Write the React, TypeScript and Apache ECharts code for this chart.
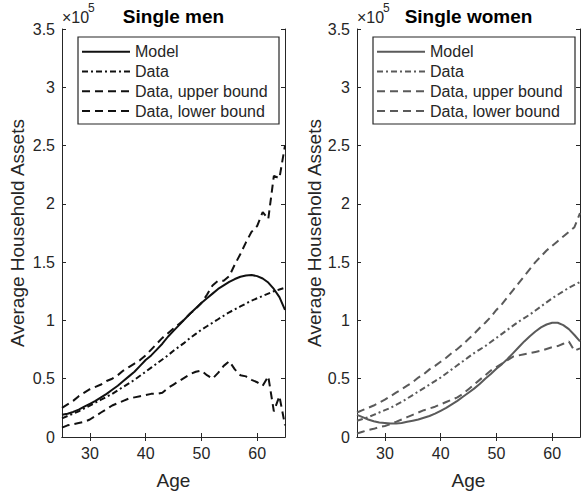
import React, { useEffect, useRef } from "react";
import * as echarts from "echarts";

// Ages (years)
const AGES = [25, 26, 27, 28, 29, 30, 31, 32, 33, 34, 35, 36, 37, 38, 39, 40, 41, 42, 43, 44, 45,
  46, 47, 48, 49, 50, 51, 52, 53, 54, 55, 56, 57, 58, 59, 60, 61, 62, 63, 64, 65];

// Values in units of 1e5 (axis shows "x10^5")
const MEN_MODEL = [0.19, 0.2, 0.215, 0.235, 0.26, 0.285, 0.31, 0.34, 0.37, 0.405, 0.44, 0.48, 0.52, 0.56, 0.61, 0.66,
  0.7, 0.75, 0.8, 0.86, 0.91, 0.96, 1.01, 1.06, 1.105, 1.15, 1.19, 1.23, 1.27, 1.3, 1.33, 1.355, 1.375, 1.385, 1.39,
  1.38, 1.36, 1.325, 1.27, 1.2, 1.09];
const MEN_DATA = [0.16, 0.18, 0.2, 0.22, 0.245, 0.27, 0.295, 0.32, 0.345, 0.37, 0.4, 0.43, 0.46, 0.49, 0.525, 0.56,
  0.595, 0.63, 0.665, 0.7, 0.74, 0.775, 0.81, 0.85, 0.885, 0.92, 0.95, 0.98, 1.01, 1.04, 1.07, 1.095, 1.12, 1.145,
  1.17, 1.19, 1.21, 1.23, 1.25, 1.265, 1.28];
const MEN_UPPER = [0.25, 0.28, 0.31, 0.35, 0.38, 0.41, 0.43, 0.45, 0.48, 0.5, 0.53, 0.57, 0.6, 0.63, 0.66, 0.7, 0.75,
  0.8, 0.85, 0.89, 0.93, 0.97, 1.01, 1.06, 1.1, 1.15, 1.22, 1.3, 1.34, 1.34, 1.38, 1.48, 1.57, 1.67, 1.76, 1.81, 1.93,
  1.87, 2.24, 2.22, 2.5];
const MEN_LOWER = [0.08, 0.1, 0.11, 0.12, 0.13, 0.15, 0.18, 0.21, 0.24, 0.27, 0.29, 0.31, 0.33, 0.34, 0.35, 0.36, 0.37,
  0.37, 0.38, 0.42, 0.45, 0.48, 0.51, 0.54, 0.56, 0.57, 0.53, 0.5, 0.55, 0.61, 0.65, 0.58, 0.53, 0.52, 0.49, 0.47,
  0.44, 0.52, 0.22, 0.35, 0.1];

const WOMEN_MODEL = [0.19, 0.17, 0.15, 0.135, 0.125, 0.12, 0.115, 0.115, 0.12, 0.13, 0.14, 0.15, 0.165, 0.18, 0.2,
  0.225, 0.25, 0.28, 0.31, 0.345, 0.38, 0.415, 0.455, 0.5, 0.54, 0.585, 0.625, 0.67, 0.72, 0.77, 0.82, 0.865, 0.905,
  0.94, 0.965, 0.98, 0.98, 0.96, 0.925, 0.875, 0.82];
const WOMEN_DATA = [0.14, 0.155, 0.17, 0.19, 0.21, 0.23, 0.25, 0.275, 0.3, 0.33, 0.36, 0.39, 0.42, 0.45, 0.48, 0.51,
  0.545, 0.58, 0.615, 0.65, 0.685, 0.72, 0.75, 0.78, 0.815, 0.85, 0.885, 0.92, 0.955, 0.99, 1.02, 1.05, 1.085, 1.12,
  1.155, 1.19, 1.22, 1.25, 1.28, 1.305, 1.33];
const WOMEN_UPPER = [0.21, 0.23, 0.25, 0.27, 0.295, 0.32, 0.35, 0.38, 0.41, 0.44, 0.47, 0.51, 0.54, 0.58, 0.61, 0.645,
  0.68, 0.72, 0.755, 0.795, 0.84, 0.885, 0.935, 0.98, 1.03, 1.09, 1.14, 1.2, 1.26, 1.32, 1.38, 1.44, 1.5, 1.55, 1.6,
  1.64, 1.68, 1.72, 1.76, 1.8, 1.92];
const WOMEN_LOWER = [0.03, 0.045, 0.06, 0.07, 0.085, 0.095, 0.11, 0.13, 0.15, 0.17, 0.19, 0.21, 0.23, 0.245, 0.26,
  0.28, 0.3, 0.32, 0.34, 0.37, 0.41, 0.45, 0.49, 0.53, 0.57, 0.6, 0.63, 0.66, 0.69, 0.7, 0.71, 0.72, 0.73, 0.74, 0.755,
  0.77, 0.78, 0.8, 0.82, 0.74, 0.76];

const X_TICKS = [30, 40, 50, 60];
const PANEL_TITLES = ["Single men", "Single women"];
const SERIES_NAMES = ["Model", "Data", "Data, upper bound", "Data, lower bound"];
const X_LABEL = "Age";
const Y_LABEL = "Average Household Assets";
const EXPONENT = "5";

const FONT = "'Liberation Sans', Arial, Helvetica, sans-serif";
const AXIS_COLOR = "#262626";
const PANEL_COLORS = ["#111111", "#5a5a5a"];
const DASHES: any[] = ["solid", [6, 3, 2, 3], [8, 5], [8, 5]];

const GRID_LEFTS = [62, 357];
const GRID_TOP = 29;
const GRID_W = 223;
const GRID_H = 409;

function pairs(ys: number[]) {
  return AGES.map((a, i) => [a, ys[i]]);
}

export default function App() {
  const ref = useRef<HTMLDivElement>(null);
  useEffect(() => {
    if (!ref.current) return;
    const chart = echarts.init(ref.current, undefined, { renderer: "svg" });
    const panels = [
      [MEN_MODEL, MEN_DATA, MEN_UPPER, MEN_LOWER],
      [WOMEN_MODEL, WOMEN_DATA, WOMEN_UPPER, WOMEN_LOWER],
    ];
    const grid: any[] = [];
    const xAxis: any[] = [];
    const yAxis: any[] = [];
    const series: any[] = [];
    const graphic: any[] = [];
    const nameGaps = [35, 30];
    panels.forEach((sets, p) => {
      grid.push({ left: GRID_LEFTS[p], top: GRID_TOP, width: GRID_W, height: GRID_H, show: false });
      const common = {
        gridIndex: p,
        type: "value",
        min: 25,
        max: 65,
        splitLine: { show: false },
        axisLine: { show: true, lineStyle: { color: AXIS_COLOR, width: 1 } },
      };
      xAxis.push({
        ...common,
        position: "bottom",
        axisTick: { show: true, inside: true, length: 4, customValues: X_TICKS, lineStyle: { color: AXIS_COLOR } },
        axisLabel: { show: true, customValues: X_TICKS, margin: 8, fontSize: 16, color: AXIS_COLOR, fontFamily: FONT },
        name: X_LABEL,
        nameLocation: "middle",
        nameGap: 34,
        nameTextStyle: { fontSize: 19, color: AXIS_COLOR, fontFamily: FONT },
      });
      xAxis.push({
        ...common,
        position: "top",
        axisTick: { show: true, inside: true, length: 4, customValues: X_TICKS, lineStyle: { color: AXIS_COLOR } },
        axisLabel: { show: false },
      });
      const ycommon = {
        gridIndex: p,
        type: "value",
        min: 0,
        max: 3.5,
        interval: 0.5,
        splitLine: { show: false },
        axisLine: { show: true, lineStyle: { color: AXIS_COLOR, width: 1 } },
        axisTick: { show: true, inside: true, length: 4, lineStyle: { color: AXIS_COLOR } },
      };
      yAxis.push({
        ...ycommon,
        position: "left",
        axisLabel: { show: true, margin: 7, fontSize: 16, color: AXIS_COLOR, fontFamily: FONT },
        name: Y_LABEL,
        nameLocation: "middle",
        nameGap: nameGaps[p],
        nameTextStyle: { fontSize: 19, color: AXIS_COLOR, fontFamily: FONT },
      });
      yAxis.push({ ...ycommon, position: "right", axisLabel: { show: false } });
      sets.forEach((ys, k) => {
        series.push({
          type: "line",
          name: SERIES_NAMES[k],
          xAxisIndex: p * 2,
          yAxisIndex: p * 2,
          data: pairs(ys),
          showSymbol: false,
          symbol: "none",
          smooth: false,
          lineStyle: { color: PANEL_COLORS[p], width: 2, type: DASHES[k] },
          z: 2 + k,
        });
      });

      const gl = GRID_LEFTS[p];
      const cx = gl + GRID_W / 2;
      // title
      graphic.push({
        type: "text",
        x: cx,
        y: 16,
        style: { text: PANEL_TITLES[p], font: `bold 19px ${FONT}`, fill: "#000", align: "center", verticalAlign: "middle" },
      });
      // x10^5
      graphic.push({
        type: "text",
        x: gl,
        y: 17,
        style: { text: "\u00d710", font: `16px ${FONT}`, fill: AXIS_COLOR, align: "left", verticalAlign: "middle" },
      });
      graphic.push({
        type: "text",
        x: gl + 26,
        y: 8,
        style: { text: EXPONENT, font: `12px ${FONT}`, fill: AXIS_COLOR, align: "left", verticalAlign: "middle" },
      });
      // legend box
      const lx = gl + 16;
      const ly = 37;
      const lw = p === 0 ? 201 : 202;
      graphic.push({
        type: "rect",
        shape: { x: lx, y: ly, width: lw, height: 87 },
        style: { fill: "#fff", stroke: AXIS_COLOR, lineWidth: 1.2 },
        z: 10,
      });
      const rows = [51.7, 71.5, 91.3, 111];
      SERIES_NAMES.forEach((nm, k) => {
        graphic.push({
          type: "line",
          shape: { x1: lx + 4, y1: rows[k], x2: lx + 52, y2: rows[k] },
          style: { stroke: PANEL_COLORS[p], lineWidth: 2, lineDash: DASHES[k] === "solid" ? null : DASHES[k] },
          z: 11,
        });
        graphic.push({
          type: "text",
          x: lx + 57,
          y: rows[k],
          style: { text: nm, font: `16px ${FONT}`, fill: AXIS_COLOR, align: "left", verticalAlign: "middle" },
          z: 11,
        });
      });
    });

    chart.setOption({
      animation: false,
      backgroundColor: "#fff",
      textStyle: { fontFamily: FONT },
      grid,
      xAxis,
      yAxis,
      series,
      graphic,
    });
    return () => chart.dispose();
  }, []);
  return (
    <div
      ref={ref}
      style={{ position: "absolute", left: 0, top: 0, width: 584, height: 495 }}
    />
  );
}
